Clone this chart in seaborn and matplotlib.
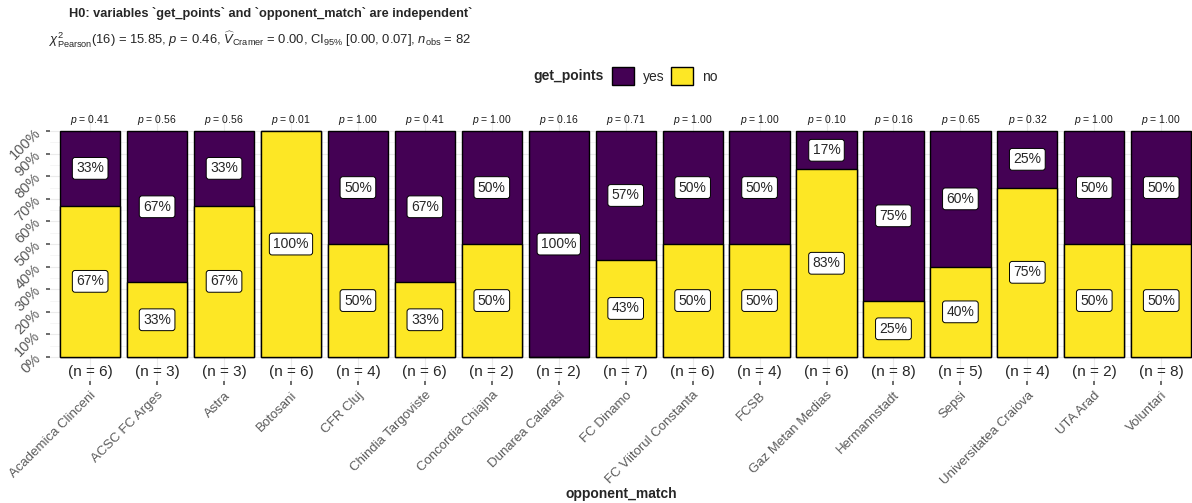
import matplotlib
matplotlib.use("Agg")
import matplotlib.pyplot as plt
import matplotlib.patches as mpatches
import seaborn as sns
import pandas as pd
import numpy as np

teams = ["Academica Clinceni", "ACSC FC Arges", "Astra", "Botosani", "CFR Cluj",
         "Chindia Targoviste", "Concordia Chiajna", "Dunarea Calarasi", "FC Dinamo",
         "FC Viitorul Constanta", "FCSB", "Gaz Metan Medias", "Hermannstadt", "Sepsi",
         "Universitatea Craiova", "UTA Arad", "Voluntari"]
n_obs = [6, 3, 3, 6, 4, 6, 2, 2, 7, 6, 4, 6, 8, 5, 4, 2, 8]
pct_no = [67, 33, 67, 100, 50, 33, 50, 0, 43, 50, 50, 83, 25, 40, 75, 50, 50]
pct_yes = [33, 67, 33, 0, 50, 67, 50, 100, 57, 50, 50, 17, 75, 60, 25, 50, 50]
p_values = ["0.41", "0.56", "0.56", "0.01", "1.00", "0.41", "1.00", "0.16", "0.71",
            "1.00", "1.00", "0.10", "0.16", "0.65", "0.32", "1.00", "1.00"]

YES_C = "#440154"
NO_C = "#FDE725"

sns.set_theme(style="white")
plt.rcParams['font.family'] = ['Liberation Sans', 'DejaVu Sans']
plt.rcParams['mathtext.fontset'] = 'custom'
plt.rcParams['mathtext.rm'] = 'Liberation Sans'
plt.rcParams['mathtext.it'] = 'Liberation Sans:italic'
plt.rcParams['mathtext.bf'] = 'Liberation Sans:bold'

df = pd.DataFrame({"team": teams, "no": np.array(pct_no) / 100.0,
                   "yes": np.array(pct_yes) / 100.0})
df["top"] = df["no"] + df["yes"]

W, H = 1192, 503
fig = plt.figure(figsize=(W / 100, H / 100), dpi=100)
ax = fig.add_axes([50 / W, 1 - 381 / H, 1142 / W, (381 - 113) / H])

sns.barplot(data=df, x="team", y="top", color=YES_C, saturation=1, width=0.9,
            edgecolor="black", linewidth=1.0, ax=ax, zorder=2)
sns.barplot(data=df, x="team", y="no", color=NO_C, saturation=1, width=0.9,
            edgecolor="black", linewidth=1.0, ax=ax, zorder=3)

ax.set_xlim(-0.6, 16.46)
ax.set_ylim(-0.106, 1.08)
ax.set_yticks(np.arange(0, 1.01, 0.1))
ax.set_yticks(np.arange(0.05, 1.0, 0.1), minor=True)
ax.set_yticklabels([f"{int(round(v * 100))}%" for v in np.arange(0, 1.01, 0.1)],
                   rotation=45, color="#5A5A5A", fontsize=10.5)
ax.grid(axis="y", which="major", color="#EBEBEB", linewidth=0.8, zorder=0)
ax.grid(axis="y", which="minor", color="#F4F4F4", linewidth=0.6, zorder=0)
ax.grid(axis="x", color="#EBEBEB", linewidth=0.8, zorder=0)
ax.set_axisbelow(True)
for s in ax.spines.values():
    s.set_visible(False)
ax.tick_params(axis="y", which="major", length=3, color="#5A5A5A", pad=2, left=True)
ax.tick_params(axis="y", which="minor", length=0)
ax.tick_params(axis="x", length=3, color="#5A5A5A", pad=3, bottom=True)
ax.set_xticks(range(len(teams)))
ax.set_xticklabels(teams, rotation=45, ha="right", rotation_mode="anchor",
                   color="#5A5A5A", fontsize=9.5)
ax.set_xlabel("opponent_match", fontweight="bold", fontsize=10, labelpad=0)
ax.set_ylabel("")

box = dict(boxstyle="round,pad=0.28,rounding_size=0.2", fc="white", ec="black", lw=0.7)
for i in range(len(teams)):
    no = df["no"][i]
    yes = df["yes"][i]
    if no > 0:
        ax.text(i, no / 2, f"{pct_no[i]}%", ha="center", va="center",
                fontsize=10, bbox=box, zorder=5)
    if yes > 0:
        ax.text(i, no + yes / 2, f"{pct_yes[i]}%", ha="center", va="center",
                fontsize=10, bbox=box, zorder=5)
    ax.text(i, 1.05, f"$p$ = {p_values[i]}", ha="center", va="center",
            fontsize=7.5, color="#1a1a1a")
    ax.text(i, -0.066, f"(n = {n_obs[i]})", ha="center", va="center", fontsize=11)

fig.text(69 / W, 1 - 14 / H,
         "H0: variables `get_points` and `opponent_match` are independent`",
         fontweight="bold", fontsize=9.2, ha="left", va="center")
fig.text(49 / W, 1 - 40 / H,
         r"$\chi^2_{\mathrm{Pearson}}$(16) = 15.85, $p$ = 0.46, $\widehat{V}_{\mathrm{Cramer}}$ = 0.00, CI$_{95\%}$ [0.00, 0.07], $n_{\mathrm{obs}}$ = 82",
         fontsize=9.4, ha="left", va="center")

fig.text(604 / W, 1 - 76 / H, "get_points", fontweight="bold", fontsize=10,
         ha="right", va="center")
handles = [mpatches.Patch(facecolor=YES_C, edgecolor="black", label="yes"),
           mpatches.Patch(facecolor=NO_C, edgecolor="black", label="no")]
fig.legend(handles=handles, loc="center left", bbox_to_anchor=(612 / W, 1 - 76 / H),
           ncol=2, frameon=False, fontsize=10, handlelength=1.6, handleheight=1.6,
           handletextpad=0.6, columnspacing=0.5, borderaxespad=0, borderpad=0)

fig.savefig("out.png", dpi=100)
